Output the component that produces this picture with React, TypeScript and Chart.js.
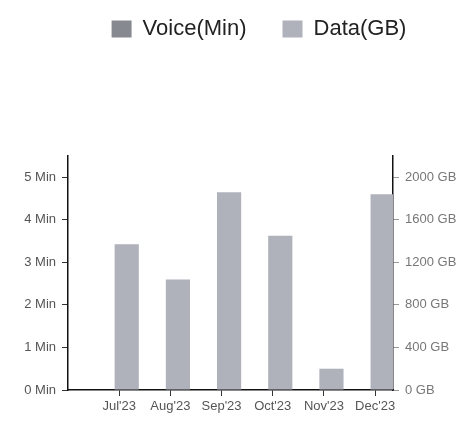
import { useEffect, useRef } from 'react';
import { Chart, registerables } from 'chart.js';

Chart.register(...registerables);

const months = ["Jul'23", "Aug'23", "Sep'23", "Oct'23", "Nov'23", "Dec'23"];
const voiceMin = [0, 0, 0, 0, 0, 0];
const dataGB = [1370, 1040, 1860, 1450, 200, 1840];
const leftTickValues = [0, 1, 2, 3, 4, 5];
const leftTickLabels = ['0 Min', '1 Min', '2 Min', '3 Min', '4 Min', '5 Min'];
const rightTickValues = [0, 400, 800, 1200, 1600, 2000];
const rightTickLabels = ['0 GB', '400 GB', '800 GB', '1200 GB', '1600 GB', '2000 GB'];

const FONT = "'Liberation Sans', Arial, sans-serif";

const legendSpacing = {
  id: 'legendSpacing',
  beforeInit(chart: any) {
    const legend = chart.legend;
    if (!legend) return;
    const orig = legend.fit;
    legend.fit = function () {
      orig.call(this);
      this.height += 88;
    };
  },
  afterLayout(chart: any) {
    const l = chart.legend;
    if (l) {
      l.left += 17;
      l.right += 17;
      l.top -= 18;
      l.bottom -= 18;
    }
  },
};

export default function App() {
  const ref = useRef<HTMLCanvasElement | null>(null);

  useEffect(() => {
    if (!ref.current) return;
    Chart.defaults.font.family = FONT;
    const chart = new Chart(ref.current, {
      type: 'bar',
      data: {
        datasets: [
          {
            label: 'Voice(Min)',
            data: voiceMin.map((v, i) => ({ x: i + 1, y: v })),
            backgroundColor: '#86898f',
            yAxisID: 'y',
          },
          {
            label: 'Data(GB)',
            data: dataGB.map((v, i) => ({ x: i + 1, y: v })),
            backgroundColor: '#afb1bb',
            yAxisID: 'y1',
          },
        ],
      },
      options: {
        responsive: false,
        animation: false,
        categoryPercentage: 0.59,
        barPercentage: 1.6,
        layout: { padding: { left: 14, right: 0, top: 0, bottom: 0 } },
        plugins: {
          legend: {
            position: 'top',
            labels: {
              boxWidth: 20,
              boxHeight: 17,
              padding: 36,
              color: '#222',
              font: { size: 22, family: FONT },
            },
          },
          tooltip: { enabled: false },
        },
        scales: {
          x: {
            type: 'linear',
            offset: false,
            min: 0,
            max: 6.35,
            afterBuildTicks: (scale: any) => {
              scale.ticks = months.map((_, i) => ({ value: i + 1 }));
            },
            afterFit: (scale: any) => {
              scale.height = 38;
            },
            ticks: {
              callback: (v: any) => months[Number(v) - 1] ?? '',
              color: '#555',
              padding: 3,
              maxRotation: 0,
              font: { size: 13, family: FONT },
            },
            grid: { offset: false, drawOnChartArea: false, drawTicks: true, tickLength: 6, color: '#333' },
            border: { display: true, color: '#111', width: 1.5 },
          },
          y: {
            type: 'linear',
            position: 'left',
            min: 0,
            max: 5.5,
            afterBuildTicks: (scale: any) => {
              scale.ticks = leftTickValues.map((v) => ({ value: v }));
            },
            afterFit: (scale: any) => {
              scale.width = 54;
            },
            ticks: {
              callback: (_v: any, i: number) => leftTickLabels[i],
              color: '#555',
              padding: 6,
              font: { size: 13, family: FONT },
            },
            grid: { drawOnChartArea: false, drawTicks: true, tickLength: 6, color: '#333' },
            border: { display: true, color: '#111', width: 1.5 },
          },
          y1: {
            type: 'linear',
            position: 'right',
            min: 0,
            max: 2200,
            afterBuildTicks: (scale: any) => {
              scale.ticks = rightTickValues.map((v) => ({ value: v }));
            },
            afterFit: (scale: any) => {
              scale.width = 77;
            },
            ticks: {
              callback: (_v: any, i: number) => rightTickLabels[i],
              color: '#777',
              padding: 6,
              font: { size: 13, family: FONT },
            },
            grid: { drawOnChartArea: false, drawTicks: true, tickLength: 6, color: '#999' },
            border: { display: true, color: '#111', width: 1.5 },
          },
        },
      } as any,
      plugins: [legendSpacing],
    });
    return () => chart.destroy();
  }, []);

  return (
    <div style={{ position: 'fixed', left: 0, top: 0, width: 470, height: 428, background: '#fff' }}>
      <canvas ref={ref} width={470} height={428} />
    </div>
  );
}
